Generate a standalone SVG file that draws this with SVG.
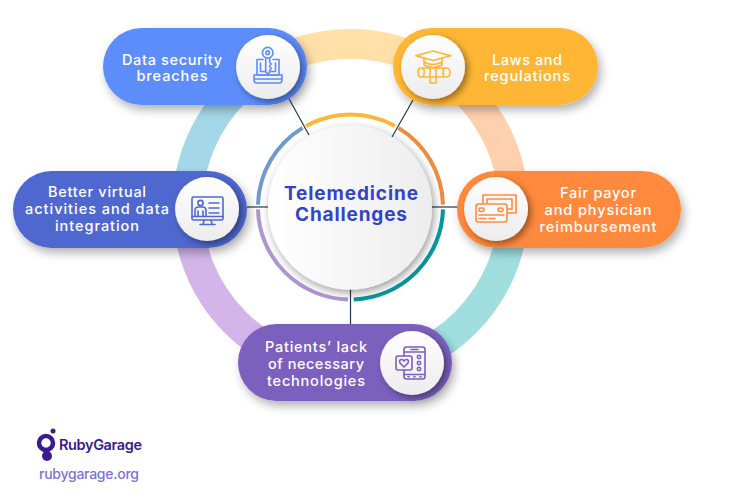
<svg xmlns="http://www.w3.org/2000/svg" width="745" height="501" viewBox="0 0 745 501">
<defs>
<filter id="pillShadow" x="-20%" y="-30%" width="140%" height="170%"><feDropShadow dx="3" dy="5" stdDeviation="5" flood-color="#000" flood-opacity=".3"/></filter>
<filter id="discShadow" x="-30%" y="-30%" width="160%" height="160%"><feDropShadow dx="3" dy="3" stdDeviation="3.500" flood-color="#000" flood-opacity=".42"/></filter>
<filter id="centerShadow" x="-20%" y="-20%" width="140%" height="140%"><feDropShadow dx="2" dy="3" stdDeviation="4" flood-color="#000" flood-opacity=".4"/></filter>
<linearGradient id="discFill" x1="0" y1="0" x2="0" y2="1"><stop offset="0" stop-color="#fff"/><stop offset="1" stop-color="#ececec"/></linearGradient>
<linearGradient id="centerFill" x1="0" y1="0" x2="1" y2="0"><stop offset="0" stop-color="#fff"/><stop offset="1" stop-color="#ededed"/></linearGradient>
</defs>
<style>
.band{fill:none;stroke-width:30}
.rim{fill:none;stroke-width:4}
.lnk{stroke:#1f3a50;stroke-width:1.2;fill:none}
.pill{filter:url(#pillShadow)}
.disc{fill:url(#discFill);filter:url(#discShadow)}
.lbl{font-family:"Inter","Noto Sans","Liberation Sans",sans-serif;font-size:14.500px;font-weight:500;fill:#fff;text-anchor:middle}
.ttl{font-family:"Inter","Noto Sans","Liberation Sans",sans-serif;font-size:19px;font-weight:700;fill:#3344c4;text-anchor:middle}
.ico{fill:none;stroke-width:1.600;stroke-linejoin:round;stroke-linecap:round}
</style>
<rect width="745" height="501" fill="#fff"/>
<g id="ring">
<path class="band" stroke="#a4d7e8" d="M187.500 207A163 163 0 0 1 269 65.800"/>
<path class="band" stroke="#ffe0a8" d="M269 65.800A163 163 0 0 1 431.500 65.800"/>
<path class="band" stroke="#ffd0ae" d="M431.500 65.800A163 163 0 0 1 513.500 207"/>
<path class="band" stroke="#a0dee0" d="M513.500 207A163 163 0 0 1 350.500 370"/>
<path class="band" stroke="#d4b5ea" d="M350.500 370A163 163 0 0 1 187.500 207"/>
</g>
<g id="connectors">
<path class="lnk" d="M288 97L309 135"/>
<path class="lnk" d="M413 100L392 137"/>
<path class="lnk" d="M247 207H270"/>
<path class="lnk" d="M430 207H458"/>
<path class="lnk" d="M350.500 288V325"/>
</g>
<g id="center">
<path class="rim" stroke="#ffb636" d="M305.900 125.900A92.500 92.500 0 0 1 395.100 125.900"/>
<path class="rim" stroke="#f08a3c" d="M398.400 127.900A92.500 92.500 0 0 1 443 204.600"/>
<path class="rim" stroke="#05979b" d="M443 209.400A92.500 92.500 0 0 1 353.700 299.400"/>
<path class="rim" stroke="#b096d0" d="M348 299.500A92.500 92.500 0 0 1 258 209.400"/>
<path class="rim" stroke="#7099d0" d="M258 204.600A92.500 92.500 0 0 1 302.600 127.900"/>
<circle cx="350" cy="207.500" r="82" fill="url(#centerFill)" filter="url(#centerShadow)"/>
<text class="ttl" x="351" y="200" textLength="134">Telemedicine</text>
<text class="ttl" x="351" y="221" textLength="112">Challenges</text>
</g>
<g id="node-data">
<rect class="pill" x="103" y="28" width="204" height="77" rx="38.500" fill="#5b8dfb"/>
<circle class="disc" cx="268" cy="67" r="32"/>
<g class="ico" stroke="#5b8dfb">
<path d="M263 59.500H257V75H279V59.500H273"/>
<path d="M260.500 63V71.500H265.500M270 71.500H275.500V63"/>
<path d="M254 75V80Q254 83 257 83H279Q282 83 282 80V75ZM254 79H282"/>
<circle cx="267.700" cy="52.700" r="5.300"/><circle cx="267.700" cy="52.700" r="1.800"/>
<path d="M265.700 58V72L267.700 74L269.700 72V70L271.500 68.500L269.700 67V65.500L271.500 64L269.700 62.500V58"/>
</g>
<text class="lbl" x="172" y="65" textLength="100">Data security</text>
<text class="lbl" x="172" y="81" textLength="71">breaches</text>
</g>
<g id="node-laws">
<rect class="pill" x="393" y="28" width="205" height="77" rx="38.500" fill="#ffb636"/>
<circle class="disc" cx="433" cy="67" r="32"/>
<g class="ico" stroke="#ffb636">
<path d="M415.700 55.700L433 51L451 55.700L433 60.500Z"/>
<path d="M424 58V65Q433 70 442 65V58M424 62Q433 67 442 62"/>
<path d="M421 68H446Q450 68 450 72.500Q450 77 446 77H421Q418 77 418 72.500Q418 68 421 68ZM423 68Q425.500 72.500 423 77M444 68Q442 72.500 444 77"/>
<path d="M430 68V83H436V68"/>
</g>
<text class="lbl" x="527" y="65" textLength="70">Laws and</text>
<text class="lbl" x="527" y="81" textLength="86">regulations</text>
</g>
<g id="node-fair">
<rect class="pill" x="457" y="171" width="224" height="77" rx="38.500" fill="#ff8a3d"/>
<circle class="disc" cx="496" cy="209" r="32"/>
<g class="ico" stroke="#ff8a3d">
<path d="M483 203V195H516V213H507M487 203V199H512V209H507"/>
<rect x="476" y="204" width="31" height="18" rx="2.500" fill="#fafafa"/>
<rect x="479" y="208" width="5" height="3.500" rx="1.500"/><rect x="498" y="208" width="5" height="3.500" rx="1.500"/>
<path d="M479 215H504M479 218.500H486M489 218.500H495"/>
</g>
<text class="lbl" x="598" y="198" textLength="76">Fair payor</text>
<text class="lbl" x="598" y="215" textLength="107">and physician</text>
<text class="lbl" x="598" y="232" textLength="117">reimbursement</text>
</g>
<g id="node-better">
<rect class="pill" x="13" y="171" width="234" height="77" rx="38.500" fill="#5068d0"/>
<circle class="disc" cx="207" cy="209" r="32"/>
<g class="ico" stroke="#5068d0">
<rect x="192" y="197" width="31" height="23" rx="1.500"/>
<path d="M192 216.500H223M204 220L203 224.500M211 220L212 224.500M200 224.500H215"/>
<circle cx="200.500" cy="203" r="2.600"/>
<path d="M195 216.500V210Q195 207 199 207H202Q206 207 206 210V216.500M198 211V216.500M203 211V216.500"/>
<path d="M209 203H219M209 208H219M209 213H219"/>
</g>
<text class="lbl" x="97" y="197" textLength="98">Better virtual</text>
<text class="lbl" x="97" y="214" textLength="144">activities and data</text>
<text class="lbl" x="97" y="231" textLength="84">integration</text>
</g>
<g id="node-patients">
<rect class="pill" x="238" y="324" width="214" height="77" rx="38.500" fill="#7b60be"/>
<circle class="disc" cx="412" cy="363" r="32"/>
<g class="ico" stroke="#7b60be">
<path d="M404 356V349.500Q404 347 406.500 347H422.500Q425 347 425 349.500V376.500Q425 379 422.500 379H406.500Q404 379 404 376.500V370"/>
<path d="M404 352H425M404 374.500H425M411 349.500H418M408 376.800H409M414 376.800H415M420 376.800H421"/>
<rect x="396" y="356" width="16" height="14" rx="2"/>
<path d="M404 367L400 363Q398.800 360 401.200 359.500Q403 359.300 404 361Q405 359.300 406.800 359.500Q409.200 360 408 363Z"/>
<circle cx="419" cy="357" r="1.700"/><circle cx="419" cy="363" r="1.700"/><circle cx="419" cy="369" r="1.700"/>
</g>
<text class="lbl" x="316" y="352" textLength="102">Patients’ lack</text>
<text class="lbl" x="316" y="369" textLength="96">of necessary</text>
<text class="lbl" x="316" y="386" textLength="98">technologies</text>
</g>
<g id="logo">
<circle cx="46" cy="443" r="7" fill="none" stroke="#3a1a8c" stroke-width="4.500"/>
<circle cx="53" cy="431" r="2.500" fill="#3a1a8c"/>
<circle cx="47" cy="456" r="5" fill="#3a1a8c"/>
<text x="59" y="450" textLength="83" font-family="Inter,'Noto Sans',sans-serif" font-size="14.500" font-weight="600" fill="#3a1a8c">RubyGarage</text>
<text x="39" y="479" textLength="100" font-family="Inter,'Noto Sans',sans-serif" font-size="14" font-weight="500" fill="#7d72d8">rubygarage.org</text>
</g>
</svg>
